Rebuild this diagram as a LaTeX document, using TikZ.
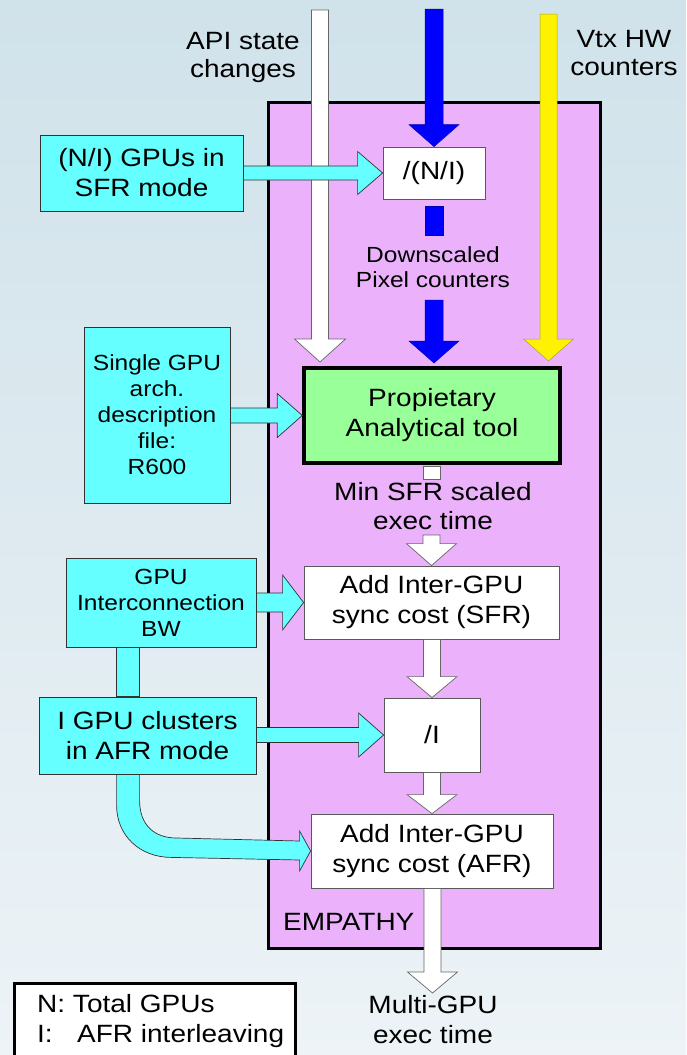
\documentclass[tikz,border=0pt]{standalone}
\usepackage{fontspec}
\setmainfont[FakeStretch=1.12]{Liberation Sans}
\usetikzlibrary{calc}

\definecolor{bgtop}{RGB}{208,226,234}
\definecolor{bgmid}{RGB}{222,234,240}
\definecolor{bgbot}{RGB}{237,243,247}
\definecolor{empfill}{RGB}{235,178,251}
\definecolor{cyanfill}{RGB}{102,255,255}
\definecolor{toolfill}{RGB}{153,255,153}
\definecolor{edge}{RGB}{50,50,50}

% vertical block arrow: style, start, tip, half shaft, half head, head length
\newcommand\vblock[6]{%
  \path[#1] let \p1=#2, \p2=#3 in
    (\x2-#4pt,\y1) -- (\x2+#4pt,\y1) -- (\x2+#4pt,\y2+#6pt) -- (\x2+#5pt,\y2+#6pt)
    -- (\x2,\y2) -- (\x2-#5pt,\y2+#6pt) -- (\x2-#4pt,\y2+#6pt) -- cycle;}
% horizontal block arrow pointing right: style, start, tip, half shaft, half head, head length
\newcommand\hblock[6]{%
  \path[#1] let \p1=#2, \p2=#3 in
    (\x1,\y2+#4pt) -- (\x2-#6pt,\y2+#4pt) -- (\x2-#6pt,\y2+#5pt) -- (\x2,\y2)
    -- (\x2-#6pt,\y2-#5pt) -- (\x2-#6pt,\y2-#4pt) -- (\x1,\y2-#4pt) -- cycle;}

\begin{document}
\begin{tikzpicture}[x=1pt,y=-1pt,
  big/.style={font=\fontsize{25}{30}\selectfont},
  small/.style={font=\fontsize{21.9}{26}\selectfont},
  label/.style={inner sep=0pt, align=center, text=black},
  box/.style={draw=edge, line width=0.8pt, inner sep=0pt, align=center},
  cyanbox/.style={box, fill=cyanfill},
  whitebox/.style={box, fill=white, draw=black!65},
  cyanarrow/.style={fill=cyanfill, draw=edge, line width=0.7pt, line join=miter},
  whitearrow/.style={fill=white, draw=black!60, line width=0.7pt},
  bluearrow/.style={fill=blue, draw=blue!70!black, line width=0.5pt},
  yellowarrow/.style={fill=yellow, draw=yellow!60!black, line width=0.5pt}]

\useasboundingbox (0,0) rectangle (686,1055);
\clip (0,0) rectangle (686,1055);

% background
\fill[bgmid] (0,0) rectangle (686,1055);
\shade[top color=bgtop, bottom color=bgbot, middle color=bgmid] (0,0) rectangle (686,1055);

% EMPATHY frame
\node[draw=black, line width=3pt, fill=empfill, minimum width=332pt, minimum height=846pt, inner sep=0pt]
  (emp) at (434,525) {};
\node[label, big, anchor=base west] (empname) at (283,930) {EMPATHY};

% boxes inside the frame
\node[whitebox, big, minimum width=102pt, minimum height=52pt] (ndiv) at (434,173) {/(N/I)};
\node[box, big, fill=toolfill, draw=black, line width=3.5pt, minimum width=256pt, minimum height=95pt]
  (tool) at (432,415.5) {Propietary\\Analytical tool};
\node[whitebox, big, minimum width=255pt, minimum height=73pt] (sfrsync) at (431.5,602.5) {Add Inter-GPU\\sync cost (SFR)};
\node[whitebox, big, minimum width=96pt, minimum height=74pt] (idiv) at (432,735) {/I};
\node[whitebox, big, minimum width=242pt, minimum height=74pt] (afrsync) at (432,851) {Add Inter-GPU\\sync cost (AFR)};

% input boxes on the left
\node[cyanbox, big, minimum width=203pt, minimum height=76pt] (sfrin) at (141.5,173) {(N/I) GPUs in\\SFR mode};
\node[cyanbox, small, minimum width=146pt, minimum height=176pt] (arch) at (157,415) {Single GPU\\arch.\\description\\file:\\R600};
\node[cyanbox, small, minimum width=190pt, minimum height=89pt] (bw) at (161,602.5) {GPU\\Interconnection\\BW};
\node[cyanbox, big, minimum width=217pt, minimum height=77pt] (afrin) at (147.5,735.5) {I GPU clusters\\in AFR mode};

% free ends of the input streams
\coordinate (apisrc) at (320,10);
\coordinate (apitip) at (320,362);
\coordinate (pixsrc) at (434,9);
\coordinate (pixsrc2) at (434,300);
\coordinate (pixtip) at (434,363);
\coordinate (vtxsrc) at (548.5,14);
\coordinate (vtxtip) at (548.5,361);
\coordinate (minsrc) at (432,535);
\coordinate (outtip) at (432.5,993);

% stream labels
\node[label, big, font=\fontsize{25}{28}\selectfont] (apilbl) at (243,57) {API state\\changes};
\node[label, big, font=\fontsize{25}{28}\selectfont] (vtxlbl) at (624,53) {Vtx HW\\counters};
\node[label, small, font=\fontsize{21.9}{25}\selectfont] (pixlbl) at (433,267) {Downscaled\\Pixel counters};
\node[label, big, font=\fontsize{25}{29}\selectfont] (minlbl) at (433,506) {Min SFR scaled\\exec time};
\node[label, big] (outlbl) at (433,1020) {Multi-GPU\\exec time};

% top input streams
\vblock{whitearrow}{(apisrc)}{(apitip)}{8.5}{25.5}{23}
\vblock{bluearrow}{(pixsrc)}{(ndiv.north)}{9}{25}{22}
\path[bluearrow] ($(ndiv.south)+(-9,7)$) rectangle ($(ndiv.south)+(9,36)$);
\vblock{bluearrow}{(pixsrc2)}{(pixtip)}{9}{25}{22}
\vblock{yellowarrow}{(vtxsrc)}{(vtxtip)}{8.5}{25}{22}

% main chain
\path[whitearrow] ($(tool.south)+(-8.5,1.5)$) rectangle ($(tool.south)+(8.5,15)$);
\vblock{whitearrow}{(minsrc)}{(sfrsync.north)}{8.5}{25}{22}
\vblock{whitearrow}{(sfrsync.south)}{(idiv.north)}{8.5}{25}{21}
\vblock{whitearrow}{(idiv.south)}{(afrsync.north)}{8.5}{25}{19}
\vblock{whitearrow}{(afrsync.south)}{(outtip)}{8.5}{25}{21}

% side inputs
\hblock{cyanarrow}{(sfrin.east)}{(ndiv.west)}{7}{21.5}{25}
\hblock{cyanarrow}{(arch.east)}{(tool.west)}{7.5}{22}{25}
\hblock{cyanarrow}{(bw.east)}{(sfrsync.west)}{9.5}{27.5}{21}
\hblock{cyanarrow}{(afrin.east)}{(idiv.west)}{7.5}{22}{25}
\path[cyanarrow] ($(bw.south west)+(51,0)$) rectangle ($(afrin.north west)+(101,0)$);
\path[cyanarrow] ($(afrin.south west)+(78,0)$) -- ++(0,31)
  .. controls +(0,30) and +(-32,0) .. ++(55,52) -- ($(afrsync.west)+(-11,9)$)
  -- ($(afrsync.west)+(-11,20)$) -- (afrsync.west) -- ($(afrsync.west)+(-11,-20)$)
  -- ($(afrsync.west)+(-11,-10)$) -- ++(-123,-3)
  .. controls +(-22,0) and +(0,25) .. ($(afrin.south west)+(101,26)$)
  -- ($(afrin.south west)+(101,0)$) -- cycle;

% redraw the box outlines touched by the arrows
\node[whitebox, big, minimum width=102pt, minimum height=52pt] at (ndiv) {/(N/I)};
\node[cyanbox, small, minimum width=190pt, minimum height=89pt] at (bw) {GPU\\Interconnection\\BW};
\node[cyanbox, big, minimum width=217pt, minimum height=77pt] at (afrin) {I GPU clusters\\in AFR mode};

% legend
\node[draw=black, line width=3pt, fill=white, minimum width=281pt, minimum height=90pt, inner sep=0pt, anchor=north west]
  (legend) at (13,982) {};
\node[label, big, anchor=base west] (legn) at (37,1012) {N: Total GPUs};
\node[label, big, anchor=base west] (legi) at (37,1042) {I:};
\node[label, big, anchor=base west] (legafr) at (77,1042) {AFR interleaving};
\end{tikzpicture}
\end{document}
